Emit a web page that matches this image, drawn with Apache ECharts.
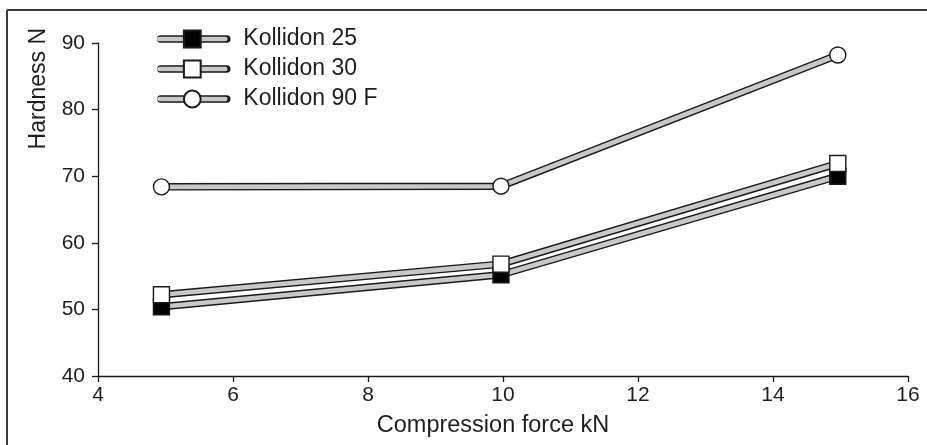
<!DOCTYPE html>
<html>
<head>
<meta charset="utf-8">
<script src="https://cdn.jsdelivr.net/npm/echarts@6/dist/echarts.min.js"></script>
<style>
html,body{margin:0;padding:0;background:#fff;}
#chart{width:927px;height:445px;}
</style>
</head>
<body>
<div id="chart"></div>
<script>
// ---- data ----
const forceKN = [4.94, 9.97, 14.96];
const kollidon25 = [50.4, 55.2, 70.0];
const kollidon30 = [52.2, 56.8, 71.9];
const kollidon90F = [68.4, 68.5, 88.2];
const seriesNames = ['Kollidon 25', 'Kollidon 30', 'Kollidon 90 F'];
const xTicks = {min: 4, max: 16, interval: 2};
const yTicks = {min: 40, max: 90, interval: 10};
const xTitle = 'Compression force kN';
const yTitle = 'Hardness N';

const FONT = 'Liberation Sans, Arial, sans-serif';
const TXT = '#1e1e1e';
const GRAY = '#c8c8c8';
const EDGE = '#1a1a1a';

function pairs(vals){ return forceKN.map((x,i)=>[x, vals[i]]); }

const values = [kollidon25, kollidon30, kollidon90F];
const markers = [
  {symbol:'rect', fill:'#000'},
  {symbol:'rect', fill:'#fff'},
  {symbol:'circle', fill:'#fff'}
];

const series = [];
values.forEach((v, i) => {
  series.push({
    name: seriesNames[i] + ' outline',
    type: 'line', data: pairs(v), z: 1, silent: true,
    symbol: 'none', animation: false,
    lineStyle: {color: EDGE, width: 7.5, cap: 'round'}
  });
});
values.forEach((v, i) => {
  series.push({
    name: seriesNames[i],
    type: 'line', data: pairs(v), z: 3, animation: false,
    symbol: markers[i].symbol, symbolSize: 16,
    lineStyle: {color: GRAY, width: 4.6, cap: 'round'},
    itemStyle: {color: markers[i].fill, borderColor: EDGE, borderWidth: 1.4, opacity: 1}
  });
});

const legendCommon = {
  orient: 'vertical', left: 152, top: 20,
  itemWidth: 66, itemHeight: 21, itemGap: 2,
  data: seriesNames, selectedMode: false,
  textStyle: {fontFamily: FONT, fontSize: 23, color: TXT, lineHeight: 28, padding: [0,0,0,13]}
};

const option = {
  backgroundColor: '#fff',
  animation: false,
  grid: {left: 98, right: 19, top: 43, bottom: 69, outerBoundsMode: 'none', containLabel: false},
  legend: [
    Object.assign({}, legendCommon, {
      z: 4,
      formatter: () => ' ',
      lineStyle: {color: EDGE, width: 7.5, cap: 'round'},
      itemStyle: {opacity: 0}
    }),
    Object.assign({}, legendCommon, {
      z: 5,
      lineStyle: {color: GRAY, width: 4.6, cap: 'round'}
    })
  ],
  xAxis: {
    type: 'value', min: xTicks.min, max: xTicks.max, interval: xTicks.interval,
    name: xTitle, nameLocation: 'middle', nameGap: 38,
    nameTextStyle: {fontFamily: FONT, fontSize: 23.5, color: TXT, padding: [0, 20, 0, 0]},
    axisLine: {show: true, lineStyle: {color: EDGE, width: 1.3}},
    axisTick: {show: true, inside: false, length: 6, lineStyle: {color: EDGE, width: 1.3}},
    axisLabel: {fontFamily: FONT, fontSize: 21, color: TXT, margin: 9},
    splitLine: {show: false}
  },
  yAxis: {
    type: 'value', min: yTicks.min, max: yTicks.max, interval: yTicks.interval,
    name: yTitle, nameLocation: 'end', nameRotate: 90, nameGap: 15,
    nameTextStyle: {fontFamily: FONT, fontSize: 23, color: TXT, align: 'right', verticalAlign: 'bottom', padding: [0,0,48,0]},
    axisLine: {show: true, lineStyle: {color: EDGE, width: 1.3}},
    axisTick: {show: true, inside: false, length: 6, lineStyle: {color: EDGE, width: 1.3}},
    axisLabel: {fontFamily: FONT, fontSize: 21, color: TXT, margin: 13},
    splitLine: {show: false}
  },
  graphic: [
    {type: 'line', shape: {x1: 7, y1: 10, x2: 927, y2: 10}, style: {stroke: '#3a3a3a', lineWidth: 2}, silent: true},
    {type: 'line', shape: {x1: 7, y1: 10, x2: 7, y2: 445}, style: {stroke: '#3a3a3a', lineWidth: 2}, silent: true}
  ],
  series: series
};

const chart = echarts.init(document.getElementById('chart'), null, {renderer: 'canvas'});
chart.setOption(option);
</script>
</body>
</html>
